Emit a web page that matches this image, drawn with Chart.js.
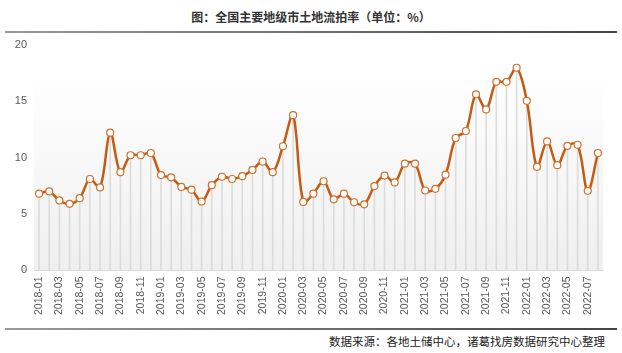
<!DOCTYPE html>
<html>
<head>
<meta charset="utf-8">
<script src="https://cdn.jsdelivr.net/npm/chart.js"></script>
<style>
  body { margin:0; width:622px; height:353px; background:#fff; overflow:hidden; font-family:"Noto Sans CJK SC", sans-serif; }
  #title { position:absolute; left:0; top:8px; width:622px; text-align:center; font-size:12px; font-weight:bold; color:#333; }
  .rule { position:absolute; left:5px; width:612px; height:2px; background:linear-gradient(to right,#9a9a9a,#444); }
  #src { position:absolute; right:17px; top:333px; font-size:11.5px; color:#222; }
  #wrap { position:absolute; left:0; top:31px; width:622px; height:290px; }
</style>
</head>
<body>
<div id="title">图：全国主要地级市土地流拍率（单位：%）</div>
<div class="rule" style="top:31px"></div>
<div id="wrap"><canvas id="c"></canvas></div>
<div class="rule" style="top:328px"></div>
<div id="src">数据来源：各地土储中心，诸葛找房数据研究中心整理</div>
<script>
// 月份 2018-01 ~ 2022-08
const months = [];
for (let y = 2018; y <= 2022; y++) {
  for (let m = 1; m <= 12; m++) {
    if (y === 2022 && m > 8) break;
    months.push(y + '-' + String(m).padStart(2, '0'));
  }
}
// 流拍率 (%)
const rates = [
  6.8, 7.0, 6.2, 5.9, 6.4, 8.1, 7.35, 12.2, 8.7, 10.2, 10.2, 10.4,
  8.45, 8.25, 7.4, 7.15, 6.1, 7.55, 8.3, 8.1, 8.35, 8.9, 9.65, 8.7,
  11.0, 13.75, 6.07, 6.8, 7.9, 6.3, 6.8, 6.04, 5.86, 7.47, 8.4, 7.8,
  9.46, 9.46, 7.08, 7.23, 8.48, 11.73, 12.35, 15.6, 14.26, 16.7, 16.7, 17.95,
  15.03, 9.17, 11.43, 9.32, 11.04, 11.13, 7.05, 10.4
];
const yTicks = [0, 5, 10, 15, 20];

// 绘图区渐变背景
const plotBg = {
  id: 'plotBg',
  beforeDraw(chart) {
    const { ctx, chartArea: a, scales } = chart;
    const top = scales.y.getPixelForValue(17.5);
    const g = ctx.createLinearGradient(0, top, 0, a.bottom);
    g.addColorStop(0, '#ffffff');
    g.addColorStop(1, '#efefef');
    ctx.save();
    ctx.fillStyle = g;
    ctx.fillRect(a.left, top, a.right - a.left, a.bottom - top);
    ctx.restore();
  }
};

new Chart(document.getElementById('c'), {
  data: {
    labels: months,
    datasets: [
      {
        type: 'line',
        data: rates,
        borderColor: '#c55a11',
        borderWidth: 2.5,
        tension: 0.35,
        pointRadius: 3.5,
        pointBackgroundColor: '#fff',
        pointBorderColor: '#d0702a',
        pointBorderWidth: 1.2,
        order: 1
      },
      {
        type: 'bar',
        data: rates,
        backgroundColor: '#dcdcdc',
        barThickness: 1,
        order: 2
      }
    ]
  },
  options: {
    responsive: true,
    maintainAspectRatio: false,
    animation: false,
    layout: { padding: { left: 0, right: 19, top: 0, bottom: 0 } },
    plugins: { legend: { display: false }, tooltip: { enabled: false } },
    scales: {
      x: {
        offset: true,
        grid: { display: false, drawTicks: false },
        border: { display: true, color: '#d9d9d9' },
        ticks: {
          autoSkip: false,
          minRotation: 90,
          maxRotation: 90,
          padding: 6,
          color: '#595959',
          font: { family: 'Liberation Sans', size: 10.5 },
          callback: (v, i) => (i % 2 === 0 ? months[i] : '')
        }
      },
      y: {
        min: 0,
        max: 20,
        afterBuildTicks: s => { s.ticks = yTicks.map(v => ({ value: v })); },
        afterFit: s => { s.width = 34; },
        grid: { display: false, drawTicks: false },
        border: { display: false },
        ticks: {
          padding: 7,
          color: '#595959',
          font: { family: 'Liberation Sans', size: 11 }
        }
      }
    }
  },
  plugins: [plotBg]
});
</script>
</body>
</html>
